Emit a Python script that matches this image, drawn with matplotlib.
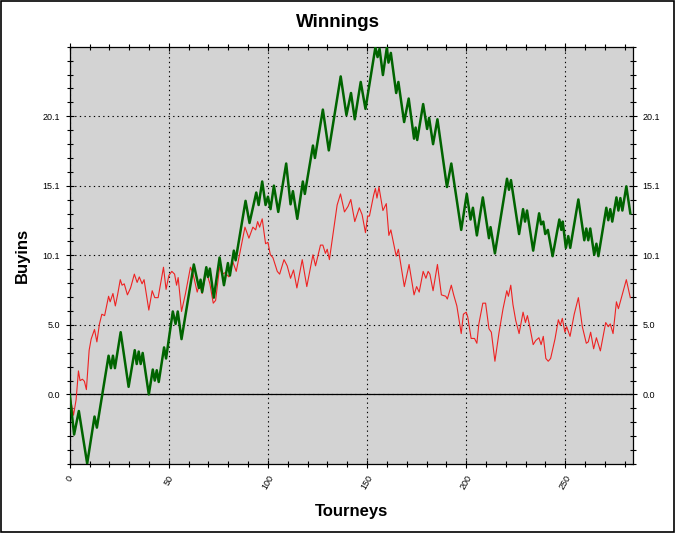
#Winnings chart: buyins won over the tourneys played, plus the red expected line.
import numpy as np
import matplotlib
matplotlib.use('Agg')
import matplotlib.pyplot as plt
from matplotlib.patches import Rectangle

plt.rcParams['font.family'] = ['Liberation Sans', 'DejaVu Sans']

won_x = [0, 2.2, 4.6, 8.8, 12.5, 13.7, 19.6, 20.8, 21.8, 22.8, 25.7, 29.7, 32.8, 33.8, 34.8, 35.8,
         36.8, 39.9, 41.9, 42.9, 43.9, 44.9, 47.6, 48.6, 52.0, 53.4, 54.5, 56.4, 62.6, 65.2, 66.0,
         66.8, 68.9, 69.7, 70.7, 72.7, 75.6, 77.8, 79.8, 80.8, 82.8, 83.7, 88.7, 90.7, 94.1, 95.3,
         97.1, 98.8, 100.0, 101.3, 103.0, 105.2, 109.2, 111.4, 112.6, 114.8, 117.6, 118.6, 122.7,
         123.7, 127.7, 130.7, 136.7, 139.6, 141.9, 143.8, 146.8, 149.2, 154.2, 155.3, 156.3, 158.0,
         160.0, 160.8, 162.0, 164.7, 165.8, 168.7, 171.0, 173.7, 174.5, 175.3, 178.3, 180.3, 181.3,
         183.3, 185.5, 190.3, 192.5, 197.5, 200.3, 202.2, 203.4, 205.4, 208.4, 211.5, 212.3, 214.5,
         220.6, 221.6, 222.6, 226.7, 228.7, 229.7, 230.7, 233.8, 236.8, 237.8, 238.9, 239.9, 241.2,
         243.6, 247.0, 248.0, 248.7, 250.3, 251.5, 252.5, 256.6, 259.6, 260.6, 261.6, 262.6, 264.6,
         265.7, 266.7, 270.7, 271.7, 272.7, 273.7, 275.8, 276.8, 277.8, 278.8, 280.8, 282.8]
won_y = [0, -2.9, -1.2, -5.0, -1.6, -2.4, 2.8, 1.9, 2.8, 1.9, 4.5, 0.55, 3.2, 2.2, 3.1, 2.2,
         3.0, 0.0, 1.8, 1.0, 1.75, 0.9, 3.4, 2.6, 6.0, 5.1, 6.0, 4.0, 9.4, 7.7, 8.3,
         7.4, 9.2, 8.5, 9.1, 7.0, 9.9, 7.9, 9.5, 8.6, 10.4, 9.7, 14.0, 12.4, 14.6, 13.7,
         15.4, 13.7, 14.3, 13.4, 15.1, 13.2, 16.7, 13.75, 14.7, 12.7, 15.4, 14.5, 18.0,
         17.1, 20.6, 17.65, 23.0, 20.2, 21.8, 19.9, 22.6, 20.65, 25.1, 24.4, 25.0, 23.1,
         25.1, 24.0, 24.7, 21.8, 22.6, 19.7, 21.4, 18.5, 19.3, 18.4, 21.0, 19.2, 20.0,
         18.1, 19.9, 15.0, 16.7, 11.9, 14.5, 12.65, 13.5, 11.5, 14.25, 11.3, 12.1, 10.2,
         15.6, 14.8, 15.5, 11.6, 13.4, 12.5, 13.3, 10.4, 13.1, 12.3, 12.5, 11.6, 11.9,
         10.0, 12.65, 11.9, 12.5, 10.6, 11.45, 10.6, 14.1, 11.15, 12.0, 11.15, 12.0, 10.1,
         10.9, 10.0, 13.5, 12.6, 13.4, 12.5, 14.25, 13.3, 14.2, 13.3, 15.05, 13.1]

# red: the thinner line
ev_x = [0, 1.9, 3.2, 4.4, 5.2, 6.4, 7.4, 8.4, 9.8, 10.8, 12.5, 13.7, 15.0, 16.2, 17.6, 19.6, 20.4,
        21.8, 23.0, 24.2, 25.5, 26.4, 27.5, 29.1, 30.7, 32.6, 34.0, 35.1, 36.5, 37.5, 39.9, 41.6,
        42.9, 44.6, 47.3, 48.6, 50.0, 51.5, 52.9, 53.9, 54.7, 56.4, 58.4, 60.9, 62.1, 64.3, 65.5,
        66.8, 68.9, 70.7, 72.4, 73.6, 75.6, 76.9, 78.3, 80.3, 82.0, 84.0, 88.4, 90.4, 92.4, 93.8,
        94.8, 95.8, 97.1, 98.8, 100.0, 101.2, 102.5, 104.7, 105.9, 108.1, 109.7, 111.4, 112.9,
        114.6, 117.3, 119.6, 122.7, 124.0, 126.5, 127.7, 129.0, 129.9, 131.0, 134.9, 136.6, 138.6,
        140.4, 141.8, 143.8, 146.1, 147.5, 149.2, 150.3, 151.2, 153.3, 154.2, 155.0, 156.0, 158.0,
        159.7, 161.0, 162.0, 164.7, 165.8, 168.8, 171.2, 173.7, 175.0, 176.3, 178.3, 179.7, 180.8,
        181.7, 183.3, 185.5, 187.5, 189.7, 190.5, 192.5, 193.7, 195.3, 197.5, 198.6, 200.0, 200.8,
        202.5, 204.2, 205.4, 206.4, 208.4, 209.8, 211.5, 212.7, 214.5, 216.6, 218.6, 220.5, 221.3,
        222.5, 223.6, 225.0, 226.7, 228.7, 229.9, 230.9, 232.1, 233.8, 235.1, 236.7, 237.8, 238.9,
        240.2, 241.4, 242.6, 244.8, 246.5, 247.5, 248.5, 249.8, 250.7, 252.4, 254.5, 256.6, 258.6,
        260.6, 261.6, 262.8, 264.3, 265.7, 267.7, 270.4, 271.7, 272.7, 274.1, 275.8, 276.8, 278.5,
        280.8, 282.8]
ev_y = [0, -1.5, -0.4, 1.7, 1.0, 1.1, 0.95, 0.35, 3.2, 4.0, 4.7, 3.8, 5.1, 5.8, 5.7, 7.1, 6.7,
        7.3, 6.4, 7.25, 8.3, 7.9, 8.0, 7.2, 7.7, 8.7, 8.1, 8.5, 8.0, 8.3, 6.1, 7.5,
        7.0, 7.0, 9.2, 7.6, 8.6, 8.9, 8.7, 7.9, 8.45, 6.0, 7.3, 9.2, 8.8, 7.4, 8.0,
        7.3, 8.9, 8.0, 6.6, 6.8, 9.2, 8.7, 8.8, 8.5, 9.7, 8.9, 12.1, 11.3, 12.1, 11.9,
        12.5, 12.1, 12.7, 10.9, 11.0, 10.1, 9.9, 8.9, 8.7, 9.75, 9.3, 8.4, 9.0,
        7.7, 9.75, 7.8, 10.1, 9.3, 10.8, 10.8, 10.2, 10.5, 9.75, 13.7, 14.5, 13.2,
        13.6, 14.1, 12.5, 13.5, 13.0, 11.7, 12.9, 12.9, 14.4, 14.9, 14.2, 15.0, 13.3,
        13.8, 11.5, 11.9, 10.0, 10.5, 7.8, 9.4, 7.2, 7.8, 7.4, 8.9, 8.4, 8.9,
        8.7, 7.5, 9.4, 7.2, 7.1, 6.9, 7.9, 7.2, 6.4, 4.4, 5.8, 5.95, 5.6,
        4.05, 4.05, 3.7, 5.1, 6.6, 6.6, 4.75, 4.5, 2.4, 4.5, 6.2, 7.5, 7.1,
        7.9, 6.5, 5.35, 4.4, 5.95, 5.2, 5.7, 4.9, 3.6, 3.9, 4.1, 3.6, 4.2,
        2.6, 2.4, 2.6, 4.0, 5.4, 5.0, 5.5, 4.5, 4.9, 4.2, 5.8, 7.0, 4.9,
        3.7, 3.8, 4.5, 3.3, 4.1, 3.15, 5.2, 4.9, 5.1, 4.4, 6.7, 6.2, 7.1,
        8.3, 7.0]

# axis ticks as the chart shows them
y_major = [0.0, 5.03, 10.06, 15.09, 20.12]
y_minor = np.arange(-5.03, 25.2, 1.006)
x_major = [0, 50, 100, 150, 200, 250]
x_minor = np.arange(0, 285, 10)

fig = plt.figure(figsize=(6.75, 5.33), dpi=100)
ax = fig.add_axes([0.1033, 0.1295, 0.834, 0.7829])
ax.set_facecolor('#d3d3d3')

ax.plot(ev_x, ev_y, color='#ee2222', lw=0.8, zorder=3)
ax.plot(won_x, won_y, color='#006400', lw=1.8, zorder=4)
ax.axhline(0, color='black', lw=0.9, zorder=2)

ax.set_xlim(0, 284)
ax.set_ylim(-5.0, 25.0)
ax.set_xticks(x_major)
ax.set_xticks(x_minor, minor=True)
ax.set_yticks(y_major)
ax.set_yticks(y_minor, minor=True)
ax.set_yticklabels(['%.1f' % v for v in y_major])
ax.set_xticklabels([str(v) for v in x_major], rotation=60, ha='center', va='top')

ax.grid(True, which='major', color='black', linestyle=(0, (1.2, 3)), lw=0.8, zorder=1)
ax.tick_params(which='both', direction='inout', top=True, right=True,
               labelright=True, labelsize=6.5, width=0.8)
ax.tick_params(which='major', length=6, pad=3)
ax.tick_params(which='minor', length=4)
ax.tick_params(axis='y', which='major', pad=4)
ax.tick_params(axis='x', which='major', pad=4)
for s in ax.spines.values():
    s.set_linewidth(0.9)

fig.text(0.5, 1 - 22 / 533, 'Winnings', ha='center', va='center', fontsize=13.5, fontweight='bold')
ax.set_xlabel('Tourneys', fontsize=12, fontweight='bold', labelpad=9)
ax.set_ylabel('Buyins', fontsize=12, fontweight='bold', labelpad=9)

# black frame around the whole picture
fig.patches.append(Rectangle((0.001, 0.001), 0.997, 0.997, transform=fig.transFigure,
                             fill=False, edgecolor='black', lw=1.2))

plt.savefig('out.png', dpi=100)
